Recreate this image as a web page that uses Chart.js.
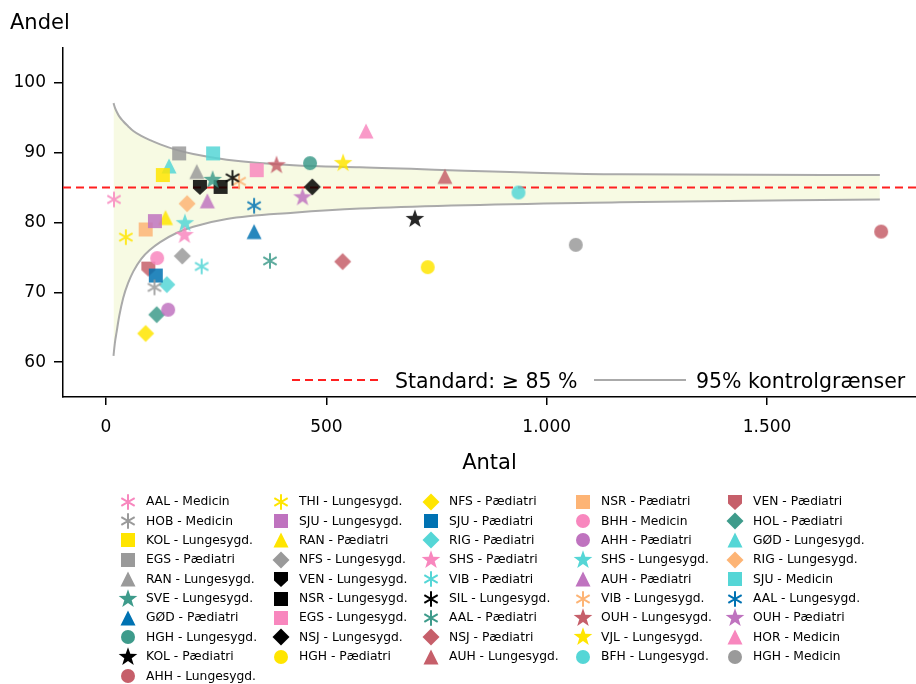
<!DOCTYPE html>
<html>
<head>
<meta charset="utf-8">
<script src="https://cdn.jsdelivr.net/npm/chart.js@4.4.1/dist/chart.umd.min.js"></script>
<style>
  body { margin: 0; background: #fff; font-family: "DejaVu Sans", sans-serif; }
  #wrap { position: relative; width: 916px; height: 684px; overflow: hidden; }
  #c { position: absolute; left: 0; top: 0; }
  #ylab { position: absolute; left: 10px; top: 10px; font-size: 21px; line-height: 25px; }
  .inleg { position: absolute; font-size: 20.5px; line-height: 24px; top: 369px; white-space: nowrap; }
  .leg-item { position: absolute; font-size: 12.3px; line-height: 16px; white-space: nowrap; }
  .leg-mark { position: absolute; }
</style>
</head>
<body>
<div id="wrap">
  <canvas id="c" width="921" height="493"></canvas>
  <div id="ylab">Andel</div>
  <svg style="position:absolute;left:0;top:0" width="916" height="493">
    <line x1="292" y1="380" x2="380" y2="380" stroke="#ff2020" stroke-width="2" stroke-dasharray="8,5"/>
    <line x1="594" y1="380" x2="686" y2="380" stroke="#aaaaaa" stroke-width="2"/>
  </svg>
  <div class="inleg" style="left:395px">Standard: ≥ 85 %</div>
  <div class="inleg" style="left:696px">95% kontrolgrænser</div>
  <div id="legend"></div>
</div>
<script>
// enheder i samme raekkefolge som legenden (kolonnevis)
const enheder = ['AAL - Medicin','HOB - Medicin','KOL - Lungesygd.','EGS - Pædiatri','RAN - Lungesygd.','SVE - Lungesygd.','GØD - Pædiatri','HGH - Lungesygd.','KOL - Pædiatri','AHH - Lungesygd.',
  'THI - Lungesygd.','SJU - Lungesygd.','RAN - Pædiatri','NFS - Lungesygd.','VEN - Lungesygd.','NSR - Lungesygd.','EGS - Lungesygd.','NSJ - Lungesygd.','HGH - Pædiatri',
  'NFS - Pædiatri','SJU - Pædiatri','RIG - Pædiatri','SHS - Pædiatri','VIB - Pædiatri','SIL - Lungesygd.','AAL - Pædiatri','NSJ - Pædiatri','AUH - Lungesygd.',
  'NSR - Pædiatri','BHH - Medicin','AHH - Pædiatri','SHS - Lungesygd.','AUH - Pædiatri','VIB - Lungesygd.','OUH - Lungesygd.','VJL - Lungesygd.','BFH - Lungesygd.',
  'VEN - Pædiatri','HOL - Pædiatri','GØD - Lungesygd.','RIG - Lungesygd.','SJU - Medicin','AAL - Lungesygd.','OUH - Pædiatri','HOR - Medicin','HGH - Medicin'];

const antal = [18,110,129,166,206,242,336,463,701,1759,
  45,111,135,173,213,260,342,468,730,
  90,113,138,178,217,287,372,537,769,
  90,116,141,179,230,302,387,538,936,
  96,115,143,184,243,336,446,590,1066];

const andel = [83.3,70.7,86.8,89.9,87.3,86.1,78.7,88.5,80.5,78.7,
  77.9,80.2,80.7,75.2,85.1,85.1,87.5,85.1,73.6,
  64.1,72.4,71.1,78.2,73.7,86.4,74.5,74.4,86.6,
  79.0,74.9,67.5,79.9,83.1,85.9,88.2,88.5,84.3,
  73.4,66.8,88.1,82.7,89.9,82.4,83.6,93.1,76.8];

// kontrolgraenser aflaest fra figuren
const graenseN = [17,20,24,30,39,50,62,80,100,123,160,198,274,425,576,1166,1756];
const oevre    = [97.1,96.5,95.9,95.2,94.5,93.8,93.1,92.4,91.8,91.2,90.4,89.8,89.0,88.2,87.9,86.9,86.8];
const nedre    = [60.9,62.7,64.3,66.6,69.2,71.3,73.0,74.8,76.1,77.2,78.5,79.4,80.5,81.4,82.0,82.9,83.3];
const standard = 85;

const xTicks = [0, 500, 1000, 1500];
const yTicks = [60, 70, 80, 90, 100];

const markoerer = ['asterisk','asterisk','square','square','triangle','star','triangle','circle','star','circle',
  'asterisk','square','triangle','diamond','shield','square','square','diamond','circle',
  'diamond','square','diamond','star','asterisk','asterisk','asterisk','diamond','triangle',
  'square','circle','circle','star','triangle','asterisk','star','star','circle',
  'shield','diamond','triangle','diamond','square','asterisk','star','triangle','circle'];

const P='#F887BE', G='#9A9A9A', Y='#FFE500', T='#3E9B8B', B='#0072B2', K='#000000',
      R='#C65F6A', U='#BF73BF', C='#55D6D6', O='#FDB475';
const farver = [P,G,Y,G,G,T,B,T,K,R,
  Y,U,Y,G,K,K,P,K,Y,
  Y,B,C,P,C,K,T,R,R,
  O,P,U,C,U,O,R,Y,C,
  R,T,C,O,C,B,U,P,G];

function makeMarker(shape, color, alpha) {
  const s = 22;
  const cv = document.createElement('canvas');
  cv.width = s; cv.height = s;
  const g = cv.getContext('2d');
  g.globalAlpha = alpha;
  g.translate(s / 2, s / 2);
  g.fillStyle = color;
  g.strokeStyle = color;
  g.beginPath();
  if (shape === 'circle') {
    g.arc(0, 0, 7, 0, Math.PI * 2); g.fill();
  } else if (shape === 'square') {
    g.rect(-7, -7, 14, 14); g.fill();
  } else if (shape === 'triangle') {
    g.moveTo(0, -7.5); g.lineTo(7.5, 7.5); g.lineTo(-7.5, 7.5); g.closePath(); g.fill();
  } else if (shape === 'diamond') {
    g.moveTo(0, -8.5); g.lineTo(8.5, 0); g.lineTo(0, 8.5); g.lineTo(-8.5, 0); g.closePath(); g.fill();
  } else if (shape === 'star') {
    for (let i = 0; i < 10; i++) {
      const r = i % 2 === 0 ? 9.8 : 3.9;
      const a = -Math.PI / 2 + i * Math.PI / 5;
      g.lineTo(r * Math.cos(a), r * Math.sin(a));
    }
    g.closePath(); g.fill();
  } else if (shape === 'shield') {
    g.moveTo(-7, -7); g.lineTo(7, -7); g.lineTo(7, 1.5); g.lineTo(0, 8); g.lineTo(-7, 1.5); g.closePath(); g.fill();
  } else if (shape === 'asterisk') {
    g.lineWidth = 2;
    [90, 30, 150].forEach(function (d) {
      const a = d * Math.PI / 180;
      g.moveTo(7.7 * Math.cos(a), -7.7 * Math.sin(a));
      g.lineTo(-7.7 * Math.cos(a), 7.7 * Math.sin(a));
    });
    g.stroke();
  }
  return cv;
}

const datasets = enheder.map(function (navn, i) {
  return {
    label: navn,
    data: [{ x: antal[i], y: andel[i] }],
    pointStyle: makeMarker(markoerer[i], farver[i], 0.85),
    order: 1
  };
});

const linjeOevre = graenseN.map((n, i) => ({ x: n, y: oevre[i] }));
const linjeNedre = graenseN.map((n, i) => ({ x: n, y: nedre[i] }));
const xMin = -97.6, xMax = 1838;

datasets.push({
  type: 'line', label: 'upper', data: linjeOevre,
  borderColor: '#aaaaaa', borderWidth: 2, pointRadius: 0,
  cubicInterpolationMode: 'monotone', fill: false, order: 10
});
datasets.push({
  type: 'line', label: 'lower', data: linjeNedre,
  borderColor: '#aaaaaa', borderWidth: 2, pointRadius: 0,
  cubicInterpolationMode: 'monotone',
  fill: { target: enheder.length, above: '#F7FAE3', below: '#F7FAE3' },
  backgroundColor: '#F7FAE3', order: 10
});
datasets.push({
  type: 'line', label: 'standard', data: [{ x: xMin, y: standard }, { x: xMax, y: standard }],
  borderColor: '#ff2020', borderWidth: 2, borderDash: [8, 5], pointRadius: 0, fill: false, order: 5
});

function dkFormat(v) {
  return String(v).replace(/\B(?=(\d{3})+(?!\d))/g, '.');
}

new Chart(document.getElementById('c'), {
  type: 'scatter',
  data: { datasets: datasets },
  options: {
    responsive: false,
    animation: false,
    layout: { padding: { top: 48, right: 0, left: 0, bottom: 0 } },
    plugins: { legend: { display: false }, tooltip: { enabled: false } },
    scales: {
      x: {
        type: 'linear', min: xMin, max: xMax,
        afterBuildTicks: function (ax) { ax.ticks = xTicks.map(v => ({ value: v })); },
        afterFit: function (ax) { ax.height = 96; },
        ticks: { font: { family: 'DejaVu Sans', size: 17 }, color: '#000', padding: 12,
                 callback: v => dkFormat(v) },
        grid: { drawOnChartArea: false, drawTicks: true, tickLength: 8, color: '#000', lineWidth: 1.5 },
        border: { display: true, color: '#000', width: 1.5 },
        title: { display: true, text: 'Antal', color: '#000',
                 font: { family: 'DejaVu Sans', size: 21 }, padding: { top: 1, bottom: 17 } }
      },
      y: {
        type: 'linear', min: 55, max: 105,
        afterBuildTicks: function (ax) { ax.ticks = yTicks.map(v => ({ value: v })); },
        afterFit: function (ax) { ax.width = 63; },
        ticks: { font: { family: 'DejaVu Sans', size: 17 }, color: '#000', padding: 8 },
        grid: { drawOnChartArea: false, drawTicks: true, tickLength: 9, color: '#000', lineWidth: 1.5 },
        border: { display: true, color: '#000', width: 1.5 }
      }
    }
  }
});

// legende under figuren, 5 kolonner fyldt kolonnevis
const kolStoerrelse = [10, 9, 9, 9, 9];
const kolMarkX = [128, 281, 431, 583, 735];
const kolTekstX = [146, 299, 449, 601, 753];
const leg = document.getElementById('legend');
let idx = 0;
kolStoerrelse.forEach(function (n, k) {
  for (let r = 0; r < n; r++, idx++) {
    const yc = 501.7 + r * 19.37;
    const m = makeMarker(markoerer[idx], farver[idx], 1);
    m.className = 'leg-mark';
    m.style.left = (kolMarkX[k] - 11) + 'px';
    m.style.top = (yc - 11) + 'px';
    leg.appendChild(m);
    const t = document.createElement('div');
    t.className = 'leg-item';
    t.style.left = kolTekstX[k] + 'px';
    t.style.top = (yc - 8.5) + 'px';
    t.textContent = enheder[idx];
    leg.appendChild(t);
  }
});
</script>
</body>
</html>
